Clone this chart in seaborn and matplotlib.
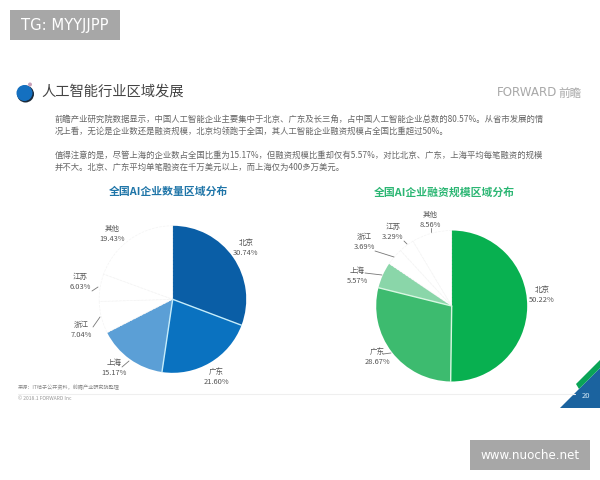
import matplotlib
matplotlib.use("Agg")
import matplotlib.pyplot as plt
from matplotlib.patches import Circle, Polygon, Rectangle
import numpy as np
import seaborn as sns

# --- Data ---
regions_count = ["北京", "广东", "上海", "浙江", "江苏", "其他"]
share_count = [30.74, 21.60, 15.17, 7.04, 6.03, 19.43]
colors_count = ["#0a5ea6", "#0a72c0", "#5b9fd6", "#ffffff", "#ffffff", "#ffffff"]

regions_funding = ["北京", "广东", "上海", "浙江", "江苏", "其他"]
share_funding = [50.22, 28.67, 5.57, 3.69, 3.29, 8.56]
colors_funding = ["#08b050", "#3dbb6f", "#8ad6a9", "#ffffff", "#ffffff", "#ffffff"]

body_lines = [
    "前瞻产业研究院数据显示，中国人工智能企业主要集中于北京、广东及长三角，占中国人工智能企业总数的80.57%。从省市发展的情",
    "况上看，无论是企业数还是融资规模，北京均领跑于全国，其人工智能企业融资规模占全国比重超过50%。",
    "值得注意的是，尽管上海的企业数占全国比重为15.17%，但融资规模比重却仅有5.57%，对比北京、广东，上海平均每笔融资的规模",
    "并不大。北京、广东平均单笔融资在千万美元以上，而上海仅为400多万美元。",
]

# --- Layout in image pixels ---
W, H = 600, 480
LABEL_POS_COUNT = [(246, 248), (216, 377), (114, 368), (81, 330), (80, 282), (112, 234)]
LABEL_POS_FUNDING = [(542, 295), (377, 357), (357, 276), (364, 242), (393, 232), (430, 220)]
LEADERS = [
    ((92, 291), (98, 287)), ((93, 327), (100, 317)), ((122, 367), (129, 361)),
    ((431, 228), (431, 232)), ((404, 241), (407, 244)), ((375, 251), (394, 257)),
    ((365, 273), (382, 275)), ((383, 354), (391, 353)),
]

sns.set_theme(style="white")
plt.rcParams["font.family"] = ["Noto Sans CJK SC", "DejaVu Sans"]

fig = plt.figure(figsize=(6, 4.8), dpi=100, facecolor="white")
ax = fig.add_axes([0, 0, 1, 1])
ax.set_xlim(0, W)
ax.set_ylim(H, 0)
ax.axis("off")


def draw_pie(values, colors, cx, cy, r, edge):
    pie_ax = fig.add_axes([(cx - r) / W, 1 - (cy + r) / H, 2 * r / W, 2 * r / H])
    wedges, _ = pie_ax.pie(values, colors=colors, startangle=90, counterclock=False,
                           wedgeprops={"edgecolor": "none"})
    pie_ax.set_xlim(-1.02, 1.02)
    pie_ax.set_ylim(-1.02, 1.02)
    for w in wedges[3:]:
        w.set_edgecolor("#f4f4f4")
        w.set_linewidth(0.5)
        w.set_linestyle("--")
    # separators only along the radii, the outer arc stays clean
    angle = 90.0
    total = sum(values)
    for v in values[:2]:
        angle -= 360.0 * v / total
        rad = np.deg2rad(angle)
        pie_ax.plot([0, np.cos(rad)], [0, np.sin(rad)], color=edge, lw=1.0)
    return wedges


draw_pie(share_count, colors_count, 172.7, 299.3, 75, "#c5ecfa")
draw_pie(share_funding, colors_funding, 451.7, 306, 77, "#d8f7e2")

# --- Watermark boxes ---
ax.add_patch(Rectangle((10, 10), 110, 30, color="#a7a7a7", lw=0))
ax.text(21, 25.5, "TG: MYYJJPP", color="white", fontsize=10.6, va="center", family="DejaVu Sans")
ax.add_patch(Rectangle((470, 440), 120, 30, color="#a7a7a7", lw=0))
ax.text(530, 455.5, "www.nuoche.net", color="white", fontsize=8.6, ha="center", va="center",
        family="DejaVu Sans")

# --- Header ---
ax.add_patch(Circle((25.5, 94), 8.5, color="#1a2a3a", lw=0))
ax.add_patch(Circle((24.5, 93), 8, color="#1470c0", lw=0))
ax.add_patch(Circle((30, 84.5), 2, color="#c9a0b8", lw=0))
ax.text(41, 92, "人工智能行业区域发展", color="#444444", fontsize=10.3, va="center")
ax.text(497, 93, "FORWARD", color="#a8a8a8", fontsize=8.6, va="center", family="DejaVu Sans")
ax.text(582, 93, "前瞻", color="#a8a8a8", fontsize=8.4, va="center", ha="right")

for y, line in zip([119, 131, 155, 167], body_lines):
    ax.text(55, y, line, color="#666666", fontsize=6.0, va="center")

ax.text(168.5, 192, "全国AI企业数量区域分布", color="#1f75a8", fontsize=7.8, weight="bold",
        ha="center", va="center")
ax.text(444, 192, "全国AI企业融资规模区域分布", color="#2bb673", fontsize=7.8, weight="bold",
        ha="center", va="center")

# --- Pie labels ---
for names, vals, positions in [(regions_count, share_count, LABEL_POS_COUNT),
                               (regions_funding, share_funding, LABEL_POS_FUNDING)]:
    for name, v, (x, y) in zip(names, vals, positions):
        ax.text(x, y - 5, name, color="#555555", fontsize=5.4, ha="center", va="center")
        ax.text(x, y + 5, f"{v:.2f}%", color="#555555", fontsize=5.4, ha="center", va="center")

for (x0, y0), (x1, y1) in LEADERS:
    ax.plot([x0, x1], [y0, y1], color="#777777", lw=0.6)

# --- Footer ---
ax.text(18, 387, "来源：IT桔子公开资料，前瞻产业研究院整理", color="#888888", fontsize=3.7, va="center")
ax.plot([18, 575], [393.5, 393.5], color="#efefef", lw=0.8)
ax.text(18, 399, "© 2018.1 FORWARD Inc", color="#999999", fontsize=3.6, va="center")

ax.add_patch(Polygon([(560, 408), (579, 389), (600, 368), (600, 408)], color="#1b639f", lw=0))
ax.add_patch(Polygon([(576, 384), (600, 360), (600, 368), (579, 389)], color="#0aa457", lw=0))
ax.text(586, 396.5, "20", color="#cfe6f5", fontsize=5.5, ha="center", va="center")

ax.set_zorder(2)
ax.patch.set_alpha(0)

fig.savefig("out.png", dpi=100)
